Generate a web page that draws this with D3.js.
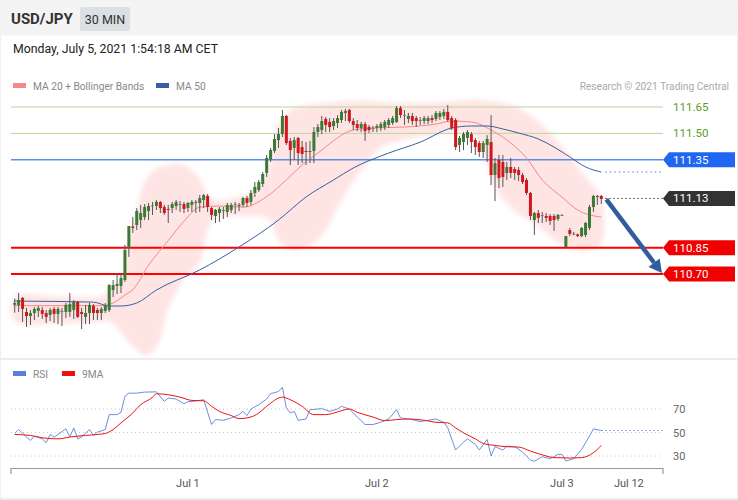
<!DOCTYPE html>
<html>
<head>
<meta charset="utf-8">
<script src="https://cdn.jsdelivr.net/npm/d3@7"></script>
<style>
body{margin:0;background:#fff;font-family:Roboto,Arial,sans-serif}
</style>
</head>
<body>
<div id="chart"></div>
<script>
// velas de 30 min (O,H,L,C)
var opens=[110.525,110.524,110.564,110.484,110.461,110.478,110.49,110.495,110.478,110.467,
110.501,110.473,110.49,110.484,110.484,110.495,110.541,110.484,110.456,110.478,
110.518,110.495,110.478,110.49,110.495,110.609,110.632,110.632,110.666,110.848,
110.97,110.979,111.007,111.024,111.058,111.087,111.087,111.11,111.081,111.07,
111.075,111.087,111.098,111.098,111.075,111.093,111.104,111.104,111.121,111.144,
111.075,111.03,111.047,111.064,111.053,111.064,111.093,111.087,111.093,111.132,
111.11,111.161,111.178,111.212,111.275,111.354,111.4,111.462,111.496,111.599,
111.457,111.417,111.474,111.422,111.4,111.394,111.4,111.508,111.519,111.582,
111.565,111.542,111.559,111.576,111.616,111.633,111.57,111.553,111.531,111.553,
111.536,111.525,111.531,111.531,111.536,111.548,111.559,111.565,111.644,111.604,
111.582,111.599,111.587,111.576,111.57,111.57,111.587,111.582,111.593,111.599,
111.622,111.587,111.576,111.434,111.451,111.474,111.496,111.462,111.445,111.394,
111.434,111.451,111.263,111.349,111.337,111.275,111.309,111.297,111.292,111.263,
111.235,111.161,111.007,111.047,111.03,111.03,111.03,111.03,111.013,111.036,
110.854,110.95,110.93,110.925,110.916,110.922,110.962,111.081,111.138,111.144]
var highs=[110.56,110.592,110.569,110.507,110.495,110.512,110.518,110.512,110.495,110.507,
110.512,110.512,110.507,110.535,110.592,110.552,110.546,110.507,110.524,110.535,
110.529,110.507,110.512,110.535,110.643,110.666,110.70,110.706,110.865,110.973,
111.024,111.075,111.093,111.098,111.104,111.11,111.121,111.115,111.093,111.093,
111.11,111.121,111.115,111.11,111.11,111.121,111.121,111.149,111.155,111.155,
111.081,111.07,111.081,111.081,111.104,111.104,111.11,111.104,111.138,111.144,
111.178,111.223,111.235,111.28,111.377,111.417,111.496,111.531,111.633,111.604,
111.474,111.479,111.479,111.457,111.451,111.457,111.536,111.553,111.599,111.593,
111.587,111.587,111.604,111.633,111.639,111.639,111.587,111.576,111.565,111.565,
111.548,111.542,111.553,111.565,111.576,111.587,111.599,111.656,111.656,111.633,
111.616,111.616,111.599,111.593,111.599,111.599,111.604,111.627,111.627,111.639,
111.661,111.599,111.587,111.485,111.508,111.519,111.508,111.474,111.457,111.457,
111.49,111.604,111.36,111.377,111.377,111.337,111.36,111.309,111.309,111.275,
111.246,111.167,111.053,111.064,111.053,111.047,111.041,111.041,111.041,111.04,
110.916,110.962,110.94,110.93,110.967,110.996,111.093,111.149,111.149,111.149]
var lows=[110.48,110.484,110.427,110.399,110.41,110.438,110.456,110.444,110.421,110.432,
110.421,110.415,110.404,110.45,110.456,110.444,110.45,110.387,110.415,110.415,
110.438,110.438,110.438,110.478,110.484,110.569,110.586,110.592,110.655,110.797,
110.933,110.95,110.962,111.007,111.007,111.036,111.064,111.047,111.036,110.99,
111.047,111.064,111.053,111.047,111.053,111.053,111.047,111.053,111.075,111.053,
111.007,110.99,110.996,111.013,111.024,111.047,111.041,111.058,111.081,111.081,
111.093,111.138,111.167,111.195,111.252,111.337,111.388,111.417,111.479,111.434,
111.32,111.349,111.32,111.331,111.32,111.331,111.331,111.479,111.496,111.508,
111.508,111.519,111.531,111.559,111.57,111.559,111.519,111.513,111.508,111.457,
111.502,111.508,111.508,111.513,111.519,111.531,111.548,111.559,111.587,111.548,
111.559,111.548,111.536,111.548,111.553,111.553,111.559,111.57,111.576,111.582,
111.565,111.519,111.405,111.394,111.405,111.434,111.388,111.377,111.366,111.36,
111.337,111.206,111.115,111.189,111.195,111.235,111.246,111.235,111.229,111.212,
111.149,111.007,110.922,110.99,110.99,110.996,110.979,110.945,111.002,111.03,
110.848,110.916,110.92,110.91,110.91,110.91,110.95,111.053,111.093,111.098]
var closes=[110.535,110.552,110.501,110.461,110.478,110.501,110.507,110.473,110.456,110.495,
110.473,110.501,110.485,110.524,110.529,110.541,110.456,110.473,110.478,110.524,
110.478,110.478,110.501,110.518,110.637,110.637,110.643,110.677,110.837,110.973,
110.962,111.058,111.047,111.081,111.087,111.09,111.11,111.075,111.047,111.064,
111.098,111.11,111.093,111.07,111.104,111.11,111.11,111.132,111.149,111.081,
111.036,111.064,111.07,111.058,111.093,111.093,111.098,111.093,111.132,111.104,
111.161,111.195,111.223,111.269,111.36,111.405,111.468,111.496,111.599,111.445,
111.405,111.462,111.388,111.383,111.394,111.4,111.508,111.536,111.57,111.548,
111.536,111.57,111.587,111.622,111.627,111.57,111.548,111.531,111.553,111.513,
111.519,111.53,111.542,111.553,111.565,111.576,111.587,111.644,111.604,111.6,
111.599,111.57,111.57,111.574,111.587,111.587,111.576,111.616,111.616,111.622,
111.576,111.531,111.422,111.474,111.496,111.508,111.451,111.422,111.394,111.445,
111.468,111.263,111.331,111.246,111.252,111.309,111.275,111.275,111.263,111.223,
111.161,111.03,111.047,111.019,111.035,111.019,111.002,111.007,111.036,111.036,
110.916,110.928,110.928,110.916,110.962,110.99,111.081,111.144,111.144,111.127]

// bandas de Bollinger (muestreadas)
var bandIdx=[0,12,22,24,27,29,31,33,36,39,43,47,49,51,57,62,65,67,70,74,78,83,88,93,98,105,110,113,116,118,120,122,125,128,131,134,138,141,144,147,149]
var bandUp=[110.57,110.57,110.575,110.61,110.67,110.89,111.07,111.22,111.30,111.32,111.32,111.24,111.15,111.12,111.14,111.20,111.35,111.55,111.63,111.66,111.67,111.68,111.685,111.68,111.67,111.675,111.68,111.685,111.69,111.69,111.685,111.68,111.67,111.645,111.60,111.55,111.45,111.37,111.28,111.20,111.14]
var bandLow=[110.43,110.42,110.43,110.43,110.37,110.31,110.27,110.235,110.28,110.50,110.67,110.77,110.95,111.02,111.03,111.03,111.0,110.89,110.84,110.85,110.92,111.12,111.29,111.42,111.46,111.49,111.50,111.51,111.50,111.45,111.33,111.20,111.10,111.04,111.00,110.95,110.88,110.85,110.83,110.84,110.87]

// MA 20
var ma20Idx=[0,12,22,25,28,30,34,39,43,47,52,58,64,69,73,78,82,85,90,99,107,111,116,121,126,130,134,139,143,146,149]
var ma20=[110.52,110.52,110.52,110.535,110.58,110.61,110.75,110.89,111.0,111.08,111.087,111.08,111.14,111.235,111.32,111.405,111.474,111.513,111.53,111.536,111.553,111.57,111.565,111.519,111.445,111.36,111.235,111.138,111.064,111.036,111.024]
// MA 50
var ma50Idx=[0,20,24,27,31,36,47,57,67,74,81,86,95,103,111,116,120,124,128,133,137,141,145,149]
var ma50=[110.546,110.54,110.518,110.518,110.535,110.609,110.723,110.854,111.007,111.138,111.235,111.303,111.388,111.45,111.53,111.542,111.542,111.525,111.502,111.468,111.422,111.366,111.309,111.28]

// RSI y su media de 9
var rsiIdx=[0,1,4,5,7,8,9,10,11,13,14,15,16,17,19,20,21,23,24,26,27,28,29,31,33,36,38,39,41,43,44,46,48,50,51,53,55,57,58,59,60,62,64,65,67,68,69,70,71,72,74,75,78,80,82,83,85,87,89,91,93,95,97,98,101,103,106,107,109,110,112,114,115,117,118,120,121,122,124,125,127,129,131,132,134,136,138,139,140,142,144,146,147,149]
var rsiVal=[49.2,52.5,43.2,46.9,44.6,41.3,48.3,46.1,48.3,53.1,46.3,53.9,44.6,46.3,52.5,47.5,50.3,52.5,65.2,65.2,67.2,80.7,83.5,83.5,84.4,84.6,76.5,79.3,78.5,74.5,76.2,76.8,77.9,56.8,61,60.4,62.4,65.2,68,64.4,70,73.7,78.5,83,84.9,88.6,70.8,66.6,68,60.4,61.5,69.4,70.3,68,70,72.3,70,63.2,56.8,56.8,58.7,61.5,69.4,62.4,61,59.3,61,61.5,58.7,54,35.1,41.8,44.6,39.9,35.1,44.1,30,37.9,35.1,38.4,37.9,33.4,26.6,25.5,29.4,27.7,31.4,31.4,25.8,27.7,35.6,46.9,53.1,51.7]
var rsiMaIdx=[0,4,7,11,14,18,21,23,25,27,30,32,35,36,39,42,45,48,50,52,55,57,60,62,64,68,70,73,76,79,82,85,87,91,94,97,100,104,107,110,112,114,117,119,122,125,128,131,135,137,141,144,147,149]
var rsiMa=[48.3,47.5,45.5,44.6,46.1,47.5,48.3,49.2,52.5,58.2,66.6,73.7,79.9,83,82.1,80.1,77.3,77,72.3,68,64.4,61.8,63.2,66.6,72.3,80.1,77.9,72.3,65.2,65.2,67.5,70,67.2,63.2,60.1,61,61.5,60.4,58.7,58.2,53.9,49.7,44.6,40.7,39,37.9,37.6,34.2,30,28.6,28.3,28.6,32.8,39]

// niveles y eje temporal
var resist=[111.65,111.50]
var pivot=111.35
var supports=[110.85,110.70]
var lastPrice=111.13
var rsiLevels=[70,50,30]
var tickIdx=[44,92,139,156]
var tickLab=["Jul 1","Jul 2","Jul 3","Jul 12"]
var arrowEnd={i:164.4,p:110.705}

var W=738,H=500
var svg=d3.select("#chart").append("svg")
	.attr("width",W).attr("height",H)
	.style("font-family","Roboto, Arial, sans-serif")

var x=d3.scaleLinear().domain([0,149]).range([14.7,601.3])
var y=d3.scaleLinear().domain([110.70,111.65]).range([274,107])
var yR=d3.scaleLinear().domain([30,70]).range([456,409])
var x0=11,x1=663

// fondo y marcos
svg.append("rect").attr("width",W).attr("height",H).attr("fill","#fff")
	.attr("stroke","#e2e2e2")
svg.append("rect").attr("x",0.5).attr("y",0.5).attr("width",W-1).attr("height",35).attr("fill","#f4f4f4")
svg.append("rect").attr("x",0).attr("y",358).attr("width",W).attr("height",2).attr("fill","#ececec")
svg.append("rect").attr("x",0).attr("y",498).attr("width",W).attr("height",2).attr("fill","#ececec")

svg.append("text").attr("x",11).attr("y",24).text("USD/JPY")
	.style("font-weight","bold").style("font-size","15px").attr("fill","#333")
svg.append("rect").attr("x",80).attr("y",7).attr("width",50).attr("height",24).attr("rx",2).attr("fill","#dcdfe4")
svg.append("text").attr("x",105).attr("y",23.5).attr("text-anchor","middle").text("30 MIN")
	.style("font-size","12.5px").attr("fill","#333")
svg.append("text").attr("x",13).attr("y",53).text("Monday, July 5, 2021 1:54:18 AM CET")
	.style("font-size","12.3px").attr("fill","#222")

// leyendas
function leyenda(xx,yy,col,txt){
	svg.append("rect").attr("x",xx).attr("y",yy-3).attr("width",13).attr("height",5).attr("fill",col)
	svg.append("text").attr("x",xx+20).attr("y",yy+3.5).text(txt).style("font-size","10.2px").attr("fill","#888")
}
leyenda(13,86,"#f28a8a","MA 20 + Bollinger Bands")
leyenda(156,86,"#3a5fa0","MA 50")
svg.append("text").attr("x",729).attr("y",90).attr("text-anchor","end")
	.text("Research \u00a9 2021 Trading Central").style("font-size","10.2px").attr("fill","#aaa")
leyenda(13,374,"#5b7fd6","RSI")
leyenda(62,374,"#ee1111","9MA")

// banda de Bollinger difuminada
var defs=svg.append("defs")
defs.append("filter").attr("id","blur").attr("x","-10%").attr("y","-10%").attr("width","120%").attr("height","120%")
	.append("feGaussianBlur").attr("stdDeviation",2.5)
var ptsBand=bandIdx.map((d,k)=>[x(d),y(bandUp[k])])
	.concat(bandIdx.map((d,k)=>[x(d),y(bandLow[k])]).reverse())
svg.append("path")
	.attr("d",d3.line().curve(d3.curveCatmullRomClosed)(ptsBand))
	.attr("fill","#ffe4e4").attr("filter","url(#blur)")

// niveles
resist.forEach(function(p){
	svg.append("line").attr("x1",x0).attr("x2",x1).attr("y1",y(p)).attr("y2",y(p))
		.attr("stroke","#b9d796").attr("stroke-width",1)
	svg.append("text").attr("x",673).attr("y",y(p)+4).text(p.toFixed(2))
		.style("font-size","11.5px").attr("fill","#5a9e1e")
})
svg.append("line").attr("x1",x0).attr("x2",x1).attr("y1",y(pivot)).attr("y2",y(pivot))
	.attr("stroke","#5b8ee6").attr("stroke-width",1.5)
supports.forEach(function(p){
	svg.append("line").attr("x1",x0).attr("x2",x1).attr("y1",y(p)).attr("y2",y(p))
		.attr("stroke","#f00").attr("stroke-width",2)
})

// medias moviles
var linea=d3.line().curve(d3.curveMonotoneX)
svg.append("path").attr("d",linea(ma20Idx.map((d,k)=>[x(d),y(ma20[k])])))
	.attr("fill","none").attr("stroke","#f08a8a").attr("stroke-width",1)
svg.append("path").attr("d",linea(ma50Idx.map((d,k)=>[x(d),y(ma50[k])])))
	.attr("fill","none").attr("stroke","#3a5fa0").attr("stroke-width",1)
svg.append("line").attr("x1",x(149)+4).attr("x2",x1).attr("y1",y(ma50[ma50.length-1])).attr("y2",y(ma50[ma50.length-1]))
	.attr("stroke","#5b7fd6").attr("stroke-dasharray","1.5,3")
svg.append("line").attr("x1",x(149)+4).attr("x2",x1).attr("y1",y(lastPrice)).attr("y2",y(lastPrice))
	.attr("stroke","#444").attr("stroke-dasharray","1.5,2.5")

// velas
var idx=d3.range(closes.length)
function colVela(i){
	if(Math.abs(closes[i]-opens[i])<0.006) return "#777"
	return closes[i]>opens[i]?"#3b7a34":"#d2161d"
}
svg.selectAll(".mecha").data(idx).enter().append("line")
	.attr("x1",i=>x(i)).attr("x2",i=>x(i))
	.attr("y1",i=>y(highs[i])).attr("y2",i=>y(lows[i]))
	.attr("stroke","#555").attr("stroke-width",1)
svg.selectAll(".cuerpo").data(idx).enter().append("rect")
	.attr("x",i=>x(i)-1.5).attr("width",3)
	.attr("y",i=>y(Math.max(opens[i],closes[i])))
	.attr("height",i=>Math.max(1,Math.abs(y(opens[i])-y(closes[i]))))
	.attr("fill",colVela)

// flecha
var ax0=x(149)+5,ay0=y(lastPrice)+1,ax1=x(arrowEnd.i),ay1=y(arrowEnd.p)
var ang=Math.atan2(ay1-ay0,ax1-ax0),hl=13,hw=7
var bx=ax1-hl*Math.cos(ang),by=ay1-hl*Math.sin(ang)
svg.append("line").attr("x1",ax0).attr("y1",ay0).attr("x2",bx).attr("y2",by)
	.attr("stroke","#2f5d9e").attr("stroke-width",4.5)
svg.append("path").attr("d","M"+ax1+","+ay1+"L"+(bx+hw*Math.sin(ang))+","+(by-hw*Math.cos(ang))
	+"L"+(bx-hw*Math.sin(ang))+","+(by+hw*Math.cos(ang))+"Z").attr("fill","#2f5d9e")

// etiquetas a la derecha
function etiqueta(p,col){
	var yc=y(p)
	svg.append("path").attr("d","M663,"+yc+"L669,"+(yc-7.5)+"L735,"+(yc-7.5)+"L735,"+(yc+7.5)+"L669,"+(yc+7.5)+"Z")
		.attr("fill",col)
	svg.append("text").attr("x",673).attr("y",yc+4).text(p.toFixed(2))
		.style("font-size","11.5px").attr("fill","#fff")
}
etiqueta(pivot,"#1f66f0")
etiqueta(lastPrice,"#333")
supports.forEach(p=>etiqueta(p,"#f00000"))

// panel RSI
rsiLevels.forEach(function(v){
	svg.append("line").attr("x1",x0).attr("x2",x1).attr("y1",yR(v)).attr("y2",yR(v))
		.attr("stroke","#c8c8c8").attr("stroke-dasharray","1,3")
	svg.append("text").attr("x",673).attr("y",yR(v)+4).text(v)
		.style("font-size","11px").attr("fill","#666")
})
var lineaR=d3.line()
svg.append("path").attr("d",lineaR(rsiIdx.map((d,k)=>[x(d),yR(rsiVal[k])])))
	.attr("fill","none").attr("stroke","#6f8fdc").attr("stroke-width",1)
svg.append("line").attr("x1",x(149)).attr("x2",x1).attr("y1",yR(rsiVal[rsiVal.length-1])).attr("y2",yR(rsiVal[rsiVal.length-1]))
	.attr("stroke","#6f8fdc").attr("stroke-dasharray","1.5,2.5")
svg.append("path").attr("d",d3.line().curve(d3.curveMonotoneX)(rsiMaIdx.map((d,k)=>[x(d),yR(rsiMa[k])])))
	.attr("fill","none").attr("stroke","#ee1111").attr("stroke-width",1)

// eje X
svg.append("path").attr("d","M"+x0+",474V468.5H"+x1+"V474")
	.attr("fill","none").attr("stroke","#999").attr("stroke-width",1.2)
svg.selectAll(".tick").data(tickIdx).enter().append("text")
	.attr("x",d=>x(d)).attr("y",487).attr("text-anchor","middle")
	.text((d,k)=>tickLab[k]).style("font-size","11px").attr("fill","#555")
</script>
</body>
</html>
